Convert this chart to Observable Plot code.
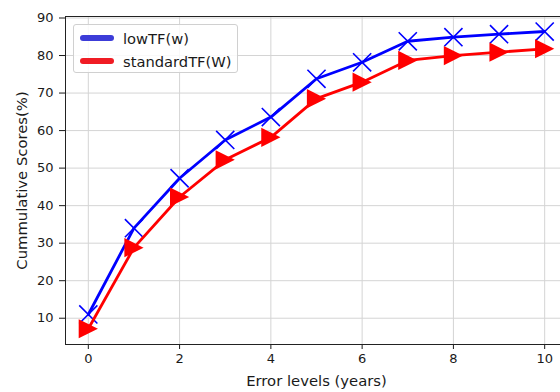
<!DOCTYPE html>
<html>
<head>
<meta charset="utf-8">
<script src="https://cdn.jsdelivr.net/npm/d3@7"></script>
<script src="https://cdn.jsdelivr.net/npm/@observablehq/plot@0.6"></script>
<style>
  html, body { margin: 0; padding: 0; background: #fff; overflow: hidden; }
  #wrap { position: relative; width: 560px; height: 392px; overflow: hidden; }
  #legend {
    position: absolute; left: 73px; top: 24px; width: 163px; height: 47px;
    border: 1px solid #d0d0d0; border-radius: 3px; background: rgba(255,255,255,0.85);
    font-family: "DejaVu Sans", sans-serif; font-size: 14.7px; color: #1a1a1a;
  }
  .row { position: absolute; left: 0; height: 20px; display: flex; align-items: center; white-space: nowrap; }
  .sw { width: 34px; height: 6px; border-radius: 3px; margin-left: 6px; margin-right: 9px; flex: none; }
</style>
</head>
<body>
<div id="wrap"><div id="legend"></div></div>
<script>
const errorLevels = [0, 1, 2, 3, 4, 5, 6, 7, 8, 9, 10];
const lowTF = [11.0, 34.0, 47.3, 57.5, 63.6, 73.8, 78.2, 83.8, 84.9, 85.7, 86.4];
const standardTF = [7.2, 28.8, 42.3, 52.2, 58.2, 68.5, 72.9, 78.7, 80.0, 80.9, 81.8];
const seriesNames = ["lowTF(w)", "standardTF(W)"];
const seriesColors = ["#0000ff", "#ff0000"];
const legendColors = ["#3c3cd8", "#f01c24"];
const xTicks = [0, 2, 4, 6, 8, 10];
const yTicks = [10, 20, 30, 40, 50, 60, 70, 80, 90];
const xLabel = "Error levels (years)";
const yLabel = "Cummulative Scores(%)";

const blueData = errorLevels.map((x, i) => ({x, y: lowTF[i]}));
const redData = errorLevels.map((x, i) => ({x, y: standardTF[i]}));

// matplotlib-like right-pointing triangle marker
const triangleRight = {
  draw(ctx, size) {
    const r = Math.sqrt(size / Math.PI);
    ctx.moveTo(r, 0);
    ctx.lineTo(-r, -r);
    ctx.lineTo(-r, r);
    ctx.closePath();
  }
};

const chart = Plot.plot({
  width: 567,
  height: 392,
  marginLeft: 65,
  marginRight: 0,
  marginTop: 16,
  marginBottom: 48,
  style: {fontFamily: "DejaVu Sans, sans-serif", fontSize: "13px", color: "#1a1a1a", background: "white"},
  x: {domain: [-0.5, 10.5], ticks: xTicks, tickSize: 5, tickPadding: 4, label: null},
  y: {domain: [3, 90.4], ticks: yTicks, tickSize: 6, tickPadding: 6, label: null},
  marks: [
    Plot.gridX(xTicks, {stroke: "#d4d4d4", strokeOpacity: 1, strokeWidth: 1}),
    Plot.gridY(yTicks, {stroke: "#d4d4d4", strokeOpacity: 1, strokeWidth: 1}),
    Plot.frame({stroke: "#222", strokeWidth: 1}),
    Plot.line(blueData, {x: "x", y: "y", stroke: seriesColors[0], strokeWidth: 2.8, strokeLinejoin: "round"}),
    Plot.dot(blueData, {x: "x", y: "y", symbol: "times", r: 8.3, stroke: seriesColors[0], strokeWidth: 1.6, fill: "none"}),
    Plot.line(redData, {x: "x", y: "y", stroke: seriesColors[1], strokeWidth: 2.8, strokeLinejoin: "round"}),
    Plot.dot(redData, {x: "x", y: "y", symbol: triangleRight, r: 9.6, fill: seriesColors[1], stroke: "none"}),
    Plot.text([xLabel], {frameAnchor: "bottom", dy: 30.5, lineAnchor: "top", textAnchor: "middle", fontSize: 14.8, fill: "#1a1a1a"}),
    Plot.text([yLabel], {frameAnchor: "left", dx: -43.5, rotate: -90, lineAnchor: "middle", textAnchor: "middle", fontSize: 14.8, fill: "#1a1a1a"})
  ]
});
chart.style.display = "block";
chart.style.maxWidth = "none";
chart.style.width = "567px";
document.getElementById("wrap").prepend(chart);

const legend = document.getElementById("legend");
seriesNames.forEach((name, i) => {
  const row = document.createElement("div");
  row.className = "row";
  row.style.top = (3 + i * 23) + "px";
  const sw = document.createElement("div");
  sw.className = "sw";
  sw.style.background = legendColors[i];
  const t = document.createElement("span");
  t.textContent = name;
  row.appendChild(sw);
  row.appendChild(t);
  legend.appendChild(row);
});
</script>
</body>
</html>
